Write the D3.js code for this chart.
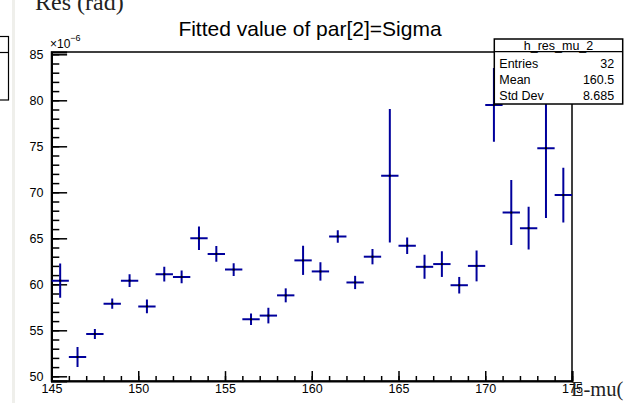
<!DOCTYPE html>
<html>
<head>
<meta charset="utf-8">
<script src="https://cdn.jsdelivr.net/npm/d3@7"></script>
<style>
  body { margin: 0; background: #fff; }
  svg { display: block; }
  .tick text { font-family: "Liberation Sans", Arial, sans-serif; }
</style>
</head>
<body>
<div id="chart"></div>
<script>
// data (values in units of 1e-6 rad)
const binCenters = [145.5, 146.5, 147.5, 148.5, 149.5, 150.5, 151.5, 152.5, 153.5, 154.5,
                    155.5, 156.5, 157.5, 158.5, 159.5, 160.5, 161.5, 162.5, 163.5, 164.5,
                    165.5, 166.5, 167.5, 168.5, 169.5, 170.5, 171.5, 172.5, 173.5, 174.5];
const sigmaValues = [60.4, 52.1, 54.6, 57.9, 60.4, 57.6, 61.1, 60.8, 65.0, 63.3,
                     61.6, 56.2, 56.6, 58.8, 62.6, 61.4, 65.2, 60.2, 63.0, 71.8,
                     64.2, 61.9, 62.2, 59.9, 62.0, 79.5, 67.8, 66.1, 74.8, 69.7];
const sigmaErrors = [1.85, 1.09, 0.54, 0.55, 0.69, 0.75, 0.8, 0.69, 1.27, 0.85,
                     0.69, 0.63, 0.85, 0.76, 1.58, 1.0, 0.67, 0.72, 0.83, 7.25,
                     0.9, 1.3, 1.4, 0.9, 1.68, 4.0, 3.53, 2.32, 7.6, 2.97];
const xTickValues = [145, 150, 155, 160, 165, 170, 175];
const yTickValues = [50, 55, 60, 65, 70, 75, 80, 85];
const statsLabels = ["Entries", "Mean", "Std Dev"];
const statsValues = ["32", "160.5", "8.685"];

const width = 627;
const height = 403;
const frame = {l: 51.5, r: 572, t: 52, b: 381};
const sans = '"Liberation Sans", Arial, sans-serif';
const serif = '"Liberation Serif", "Times New Roman", serif';
const markColor = "#00009c";

const svg = d3.select("#chart")
    .append("svg")
    .attr("width", width)
    .attr("height", height)
    .attr("viewBox", [0, 0, width, height]);

svg.append("rect").attr("width", width).attr("height", height).attr("fill", "#fff");

// neighbouring pad bits
svg.append("rect")
    .attr("x", 12).attr("y", 0).attr("width", 3).attr("height", height)
    .attr("fill", "#efefeb");
svg.append("rect")
    .attr("x", -2).attr("y", 36.5).attr("width", 10.5).attr("height", 63.5)
    .attr("fill", "none").attr("stroke", "#000").attr("stroke-width", 1.2);
svg.append("line")
    .attr("x1", -2).attr("x2", 8.5).attr("y1", 52.5).attr("y2", 52.5)
    .attr("stroke", "#000").attr("stroke-width", 1.2);
svg.append("text")
    .attr("x", 35).attr("y", 10)
    .attr("font-family", serif).attr("font-size", "24px").attr("fill", "#222")
    .text("Res (rad)");

//Scales
const xScale = d3.scaleLinear()
    .domain([145, 175])
    .range([frame.l, frame.r]);
const yScale = d3.scaleLinear()
    .domain([49.49, 85.25])
    .range([frame.b, frame.t]);

//Frame
svg.append("rect")
    .attr("x", frame.l).attr("y", frame.t)
    .attr("width", frame.r - frame.l).attr("height", frame.b - frame.t)
    .attr("fill", "none").attr("stroke", "#000").attr("stroke-width", 1.5);

//X Axis
const xMinor = d3.axisBottom(xScale)
    .tickValues(d3.range(145, 176, 1))
    .tickSize(-5)
    .tickFormat("");
svg.append("g")
    .attr("transform", `translate(0, ${frame.b})`)
    .call(xMinor)
    .call(g => g.select(".domain").remove())
    .call(g => g.selectAll("line").attr("stroke-width", 1.5));
const xAxis = d3.axisBottom(xScale)
    .tickValues(xTickValues)
    .tickSize(-9.9)
    .tickPadding(3)
    .tickFormat(d3.format("d"));
svg.append("g")
    .attr("transform", `translate(0, ${frame.b})`)
    .call(xAxis)
    .call(g => g.select(".domain").attr("stroke-width", 2))
    .call(g => g.selectAll("line").attr("stroke-width", 1.5))
    .call(g => g.selectAll("text").attr("font-size", "12.5px").attr("fill", "#000"));

//Y Axis
const yMinor = d3.axisLeft(yScale)
    .tickValues(d3.range(50, 86, 1))
    .tickSize(-7.8)
    .tickFormat("");
svg.append("g")
    .attr("transform", `translate(${frame.l}, 0)`)
    .call(yMinor)
    .call(g => g.select(".domain").remove())
    .call(g => g.selectAll("line").attr("stroke-width", 1.5));
const yAxis = d3.axisLeft(yScale)
    .tickValues(yTickValues)
    .tickSize(-15.6)
    .tickPadding(8)
    .tickFormat(d3.format("d"));
svg.append("g")
    .attr("transform", `translate(${frame.l}, 0)`)
    .call(yAxis)
    .call(g => g.select(".domain").attr("stroke-width", 2))
    .call(g => g.selectAll("line").attr("stroke-width", 1.5))
    .call(g => g.selectAll("text").attr("font-size", "12.5px").attr("fill", "#000"));

//Exponent
const expo = svg.append("text")
    .attr("x", 50).attr("y", 48)
    .attr("font-family", sans).attr("font-size", "12px");
expo.append("tspan").text("\u00d710");
expo.append("tspan").attr("dy", -7).attr("font-size", "9px").text("\u22126");

//Points with error bars
svg.append("clipPath").attr("id", "clip")
    .append("rect")
    .attr("x", frame.l).attr("y", frame.t)
    .attr("width", frame.r - frame.l).attr("height", frame.b - frame.t);

const pts = binCenters.map((c, i) => ({c: c, v: sigmaValues[i], e: sigmaErrors[i]}));
const marks = svg.append("g").attr("clip-path", "url(#clip)");
marks.selectAll(".ex")
    .data(pts)
    .enter()
    .append("line")
    .attr("x1", d => xScale(d.c - 0.5))
    .attr("x2", d => xScale(d.c + 0.5))
    .attr("y1", d => yScale(d.v))
    .attr("y2", d => yScale(d.v))
    .attr("stroke", markColor).attr("stroke-width", 2);
marks.selectAll(".ey")
    .data(pts)
    .enter()
    .append("line")
    .attr("x1", d => xScale(d.c))
    .attr("x2", d => xScale(d.c))
    .attr("y1", d => yScale(d.v - d.e))
    .attr("y2", d => yScale(d.v + d.e))
    .attr("stroke", markColor).attr("stroke-width", 2);
marks.selectAll(".dot")
    .data(pts)
    .enter()
    .append("rect")
    .attr("x", d => xScale(d.c) - 1)
    .attr("y", d => yScale(d.v) - 1)
    .attr("width", 2).attr("height", 2)
    .attr("fill", "#000");

//Title
svg.append("text")
    .attr("x", 310).attr("y", 36)
    .attr("text-anchor", "middle")
    .attr("font-family", sans).attr("font-size", "21px")
    .text("Fitted value of par[2]=Sigma");

//Stats box
const box = {x: 494.3, y: 39, w: 128.4, h: 65};
svg.append("rect")
    .attr("x", box.x).attr("y", box.y).attr("width", box.w).attr("height", box.h)
    .attr("fill", "#fff").attr("stroke", "#000").attr("stroke-width", 1.5);
svg.append("line")
    .attr("x1", box.x).attr("x2", box.x + box.w)
    .attr("y1", 51.7).attr("y2", 51.7)
    .attr("stroke", "#000").attr("stroke-width", 1.2);
svg.append("text")
    .attr("x", box.x + box.w / 2).attr("y", 49.5)
    .attr("text-anchor", "middle")
    .attr("font-family", sans).attr("font-size", "12.5px")
    .text("h_res_mu_2");
svg.selectAll(".slab")
    .data(statsLabels)
    .enter()
    .append("text")
    .attr("x", box.x + 5)
    .attr("y", (d, i) => 67.5 + i * 16.3)
    .attr("font-family", sans).attr("font-size", "12.5px")
    .text(d => d);
svg.selectAll(".sval")
    .data(statsValues)
    .enter()
    .append("text")
    .attr("x", box.x + box.w - 8.5)
    .attr("y", (d, i) => 67.5 + i * 16.3)
    .attr("text-anchor", "end")
    .attr("font-family", sans).attr("font-size", "12.5px")
    .text(d => d);

//Overlapping axis title fragment
svg.append("text")
    .attr("x", 571).attr("y", 395.5)
    .attr("font-family", serif).attr("font-size", "20.5px").attr("fill", "#222")
    .text("E-mu(");
</script>
</body>
</html>
